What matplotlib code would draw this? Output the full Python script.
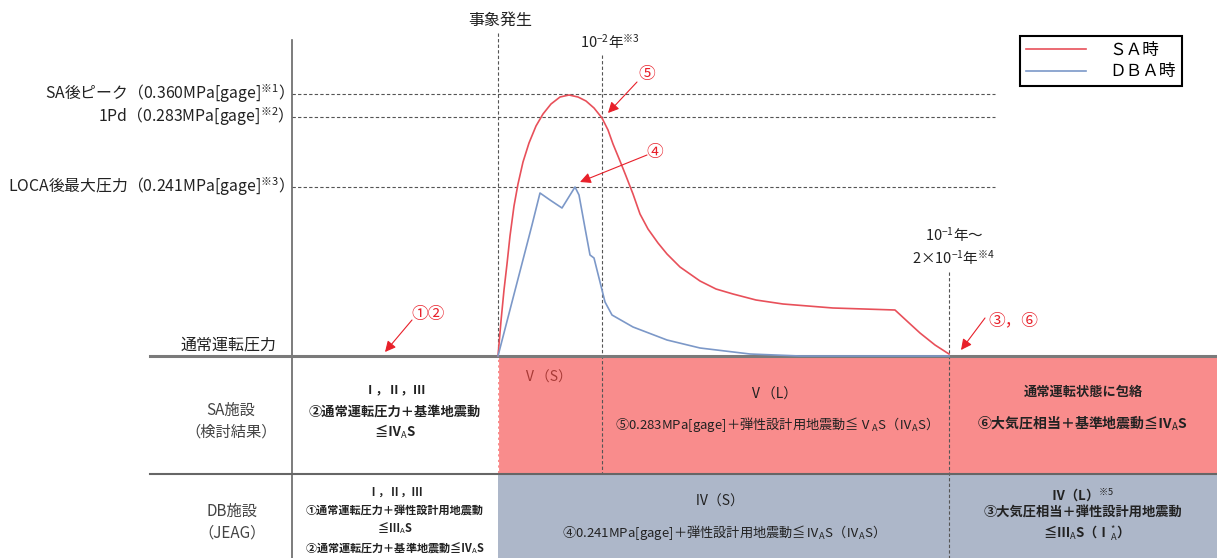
import matplotlib
matplotlib.use("Agg")
import matplotlib.pyplot as plt
from matplotlib.patches import Rectangle

plt.rcParams['font.family'] = ['Noto Sans CJK JP', 'DejaVu Sans']
plt.rcParams['mathtext.fontset'] = 'custom'
plt.rcParams['mathtext.rm'] = 'Noto Sans CJK JP'
plt.rcParams['mathtext.it'] = 'Noto Sans CJK JP'
plt.rcParams['mathtext.bf'] = 'Noto Sans CJK JP:bold'

# 模式図: 横軸 = 事象発生からの時間(模式), 縦軸 = 通常運転圧力からの圧力(模式)
sa_t = [0, 3, 6, 9, 12, 16, 20, 25, 31, 38, 45, 53, 62, 71, 80, 88, 96, 104,
        110, 115, 122, 128, 135, 142, 150, 160, 169, 182, 202, 218, 235, 258,
        285, 335, 397, 410, 422, 437, 451]
sa_p = [0, 35, 66, 92, 120, 150, 172, 194, 213, 230, 242, 252, 259, 261, 259,
        255, 248, 238, 226, 212, 195, 180, 162, 142, 127, 113, 102, 89, 75, 67,
        62, 56, 52, 48, 46, 34, 23, 11, 2]

dba_t = [0, 14, 27, 34, 42, 52, 64, 77, 81, 87, 92, 96, 101, 107, 114, 135,
         169, 202, 252, 302, 451]
dba_p = [0, 54, 104, 131, 163, 156, 148, 169, 161, 128, 101, 98, 78, 54, 41,
         29, 16, 8, 2, 0, 0]

# 圧力レベル
levels = [262, 239, 169]
level_labels = ['SA後ピーク（0.360MPa[gage]$^{\\mathrm{※1}}$）',
                '1Pd（0.283MPa[gage]$^{\\mathrm{※2}}$）',
                'LOCA後最大圧力（0.241MPa[gage]$^{\\mathrm{※3}}$）']

# 時間の区切り
t_event = 0
t_short = 104     # 10^-2 年
t_long = 451      # 10^-1 年 ~ 2x10^-1 年

# 表の行 (縦方向の範囲)
row_sa = (-118, 0)
row_db = (-202, -118)
x_min, x_max = -498, 719
axis_x = -206

red = '#E8505A'
blue = '#7C98C8'
arrow_red = '#E8202A'
pink = '#F98C8C'
graybl = '#ADB7C9'
txt = '#222222'

fig = plt.figure(figsize=(12.17, 5.58), dpi=100)
ax = fig.add_axes([0, 0, 1, 1])
ax.set_xlim(x_min, x_max)
ax.set_ylim(row_db[0], 356)
ax.axis('off')

# 表の塗り
ax.add_patch(Rectangle((t_event, row_sa[0]), x_max - t_event, row_sa[1] - row_sa[0],
                       facecolor=pink, edgecolor='none', zorder=0))
ax.add_patch(Rectangle((t_event, row_db[0]), x_max - t_event, row_db[1] - row_db[0],
                       facecolor=graybl, edgecolor='none', zorder=0))

# 軸・表の罫線
ax.plot([axis_x, axis_x], [316, row_db[0]], color='#666666', lw=1.2, zorder=3)
ax.plot([-348, x_max], [0, 0], color='#7a7a7a', lw=2.2, zorder=3)
ax.plot([-348, x_max], [row_sa[0], row_sa[0]], color='#666666', lw=1.5, zorder=3)

# 点線
dash = (0, (3, 2))
for lv in levels:
    ax.plot([axis_x, 497], [lv, lv], color='#555555', lw=0.8, ls=dash, zorder=2)
ax.plot([t_event, t_event], [323, 0], color='#555555', lw=0.8, ls=dash, zorder=2)
ax.plot([t_event, t_event], [0, row_sa[0]], color='white', lw=0.8, ls=dash, zorder=2)
ax.plot([t_short, t_short], [301, row_sa[0]], color='#555555', lw=0.8, ls=dash, zorder=2)
ax.plot([t_long, t_long], [84, row_db[0]], color='#555555', lw=0.8, ls=dash, zorder=2)

# 圧力曲線
l_sa, = ax.plot(sa_t, sa_p, color=red, lw=1.2, zorder=4)
l_dba, = ax.plot(dba_t, dba_p, color=blue, lw=1.2, zorder=4)

leg = ax.legend([l_sa, l_dba], ['ＳＡ時', 'ＤＢＡ時'], loc='upper left',
                bbox_to_anchor=(1012 / 1217, 1 - 28 / 558), bbox_transform=fig.transFigure,
                fancybox=False, edgecolor='black', framealpha=1, fontsize=12,
                handlelength=3.6, handletextpad=1.4, borderpad=0.35, labelspacing=0.25)
leg.get_frame().set_linewidth(1.5)

# 左側ラベル
for lv, lab in zip(levels, level_labels):
    ax.text(-213, lv, lab, ha='right', va='center', fontsize=11.4, color=txt)
ax.text(-221, 11, '通常運転圧力', ha='right', va='center', fontsize=11.5, color=txt)

ax.text(2, 336, '事象発生', ha='center', va='center', fontsize=11.5, color=txt)
ax.text(112, 314, '10$^{-2}$年$^{\\mathrm{※3}}$', ha='center', va='center', fontsize=10.5, color=txt)
ax.text(456, 121, '10$^{-1}$年～', ha='center', va='center', fontsize=10.5, color=txt)
ax.text(456, 98, '2×10$^{-1}$年$^{\\mathrm{※4}}$', ha='center', va='center', fontsize=10.5, color=txt)

# 矢印
arrows = [('⑤', (149, 282), (139, 274), (110, 243)),
          ('④', (157, 204), (149, 201), (82, 174)),
          ('①②', (-70, 42), (-86, 36), (-113, 4)),
          ('③，⑥', (515, 35), (487, 38), (463, 6))]
for lab, lpos, start, tip in arrows:
    ax.text(lpos[0], lpos[1], lab, ha='center', va='center', fontsize=12, color=arrow_red)
    ax.annotate('', xy=tip, xytext=start,
                arrowprops=dict(arrowstyle='-|>', color=arrow_red, lw=0.8,
                                mutation_scale=16, shrinkA=0, shrinkB=0), zorder=5)

# 表の見出し
ax.text(-267, -65, 'SA施設\n（検討結果）', ha='center', va='center', fontsize=11,
        color='#444444', linespacing=1.35)
ax.text(-266, -166, 'DB施設\n（JEAG）', ha='center', va='center', fontsize=11,
        color='#444444', linespacing=1.35)

# 表の中身
cells = [
    (-103, -34, 'Ⅰ，Ⅱ，Ⅲ', 9, 'bold', txt),
    (-103, -56, '②通常運転圧力＋基準地震動', 9.5, 'bold', txt),
    (-103, -76, '≦Ⅳ$_{\\mathrm{A}}$S', 9.5, 'bold', txt),
    (-103, -136, 'Ⅰ，Ⅱ，Ⅲ', 8, 'bold', txt),
    (-103, -154, '①通常運転圧力＋弾性設計用地震動', 8, 'bold', txt),
    (-103, -172, '≦Ⅲ$_{\\mathrm{A}}$S', 8, 'bold', txt),
    (-103, -192, '②通常運転圧力＋基準地震動≦Ⅳ$_{\\mathrm{A}}$S', 8, 'bold', txt),
    (49, -22, 'Ⅴ（S）', 10, 'normal', '#A83A36'),
    (275, -39, 'Ⅴ（L）', 10, 'normal', txt),
    (275, -69, '⑤0.283MPa[gage]＋弾性設計用地震動≦Ⅴ$_{\\mathrm{A}}$S（Ⅳ$_{\\mathrm{A}}$S）',
     9.5, 'normal', txt),
    (585, -36, '通常運転状態に包絡', 9.5, 'bold', txt),
    (585, -67, '⑥大気圧相当＋基準地震動≦Ⅳ$_{\\mathrm{A}}$S', 10, 'bold', txt),
    (222, -146, 'Ⅳ（S）', 10, 'normal', txt),
    (222, -177, '④0.241MPa[gage]＋弾性設計用地震動≦Ⅳ$_{\\mathrm{A}}$S（Ⅳ$_{\\mathrm{A}}$S）',
     9.5, 'normal', txt),
    (585, -139, 'Ⅳ（L）$^{\\mathrm{※5}}$', 9.5, 'bold', txt),
    (585, -157, '③大気圧相当＋弾性設計用地震動', 9.5, 'bold', txt),
    (585, -177, '≦Ⅲ$_{\\mathrm{A}}$S（Ⅰ$^{*}_{\\mathrm{A}}$）', 9.5, 'bold', txt),
]
for x, y, s, fs, fw, c in cells:
    ax.text(x, y, s, ha='center', va='center', fontsize=fs, fontweight=fw, color=c)

fig.savefig('out.png', dpi=100)
